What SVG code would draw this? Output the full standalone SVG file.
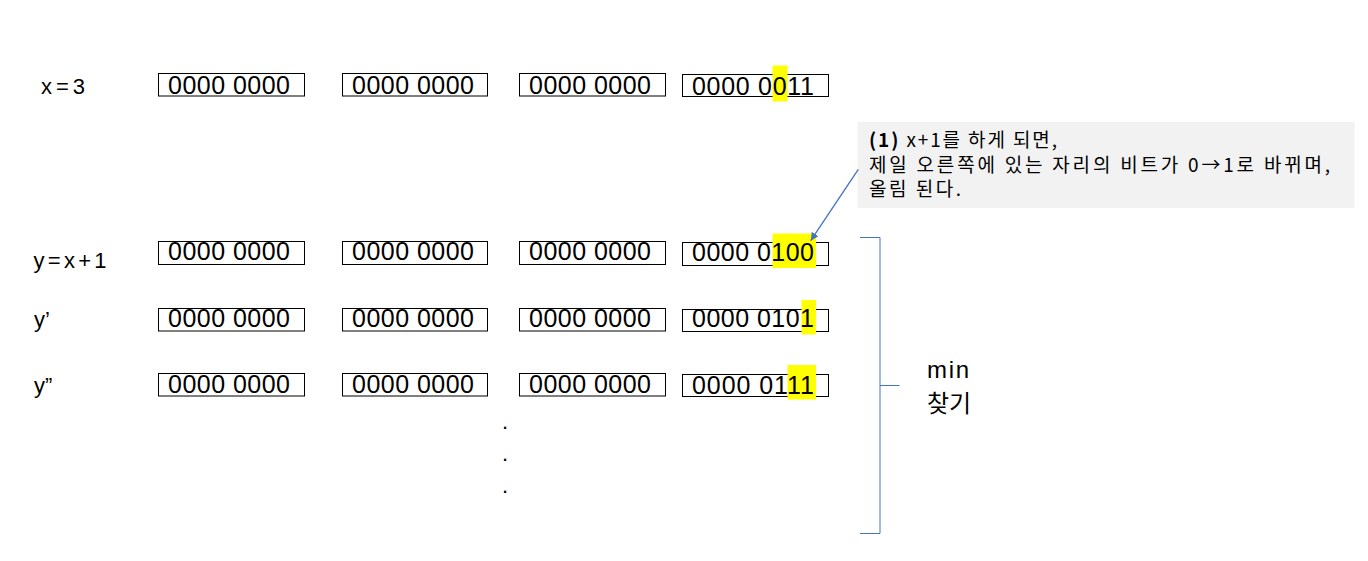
<svg xmlns="http://www.w3.org/2000/svg" width="1368" height="561" viewBox="0 0 1368 561">
<style>
.box{fill:none;stroke:#000;stroke-width:1}
.hl{fill:#FFFF00;stroke:none}
.bits{font-family:"Liberation Sans",Arial,sans-serif;font-size:25px;fill:#000}
.lbl{font-family:"Liberation Sans",Arial,sans-serif;font-size:22px;fill:#000}
.note{font-family:"Noto Sans CJK KR","Liberation Sans",sans-serif;font-size:19px;fill:#000}
.big{font-family:"Noto Sans CJK KR","Liberation Sans",sans-serif;font-size:24px;fill:#000}
.bigl{font-family:"Liberation Sans",Arial,sans-serif;font-size:24px;fill:#000}
.conn{fill:none;stroke:#4472C4;stroke-width:1.3}
.brk{fill:none;stroke:#4472C4;stroke-width:1}
</style>
<defs>
<marker id="ah" viewBox="0 0 10 10" refX="10" refY="5" markerWidth="8" markerHeight="8" markerUnits="userSpaceOnUse" orient="auto">
<path d="M0,0 L10,5 L0,10 z" fill="#4472C4"/>
</marker>
</defs>
<rect width="1368" height="561" fill="#fff"/>

<g id="row-x">
<text class="lbl" x="41" y="93.5" textLength="44" lengthAdjust="spacing">x=3</text>
<rect class="box" x="158.5" y="73.5" width="146" height="22.5"/>
<text class="bits" x="168" y="94" textLength="122" lengthAdjust="spacing">0000 0000</text>
<rect class="box" x="342.5" y="73.5" width="145" height="22.5"/>
<text class="bits" x="352" y="94" textLength="122" lengthAdjust="spacing">0000 0000</text>
<rect class="box" x="519.5" y="73.5" width="146" height="22.5"/>
<text class="bits" x="529" y="94" textLength="122" lengthAdjust="spacing">0000 0000</text>
<rect class="box" x="682.5" y="74.5" width="146" height="22"/>
<rect class="hl" x="772.5" y="65.5" width="15" height="36"/>
<text class="bits" x="692" y="94.5" textLength="122" lengthAdjust="spacing">0000 0011</text>
</g>

<g id="row-y">
<text class="lbl" x="33.5" y="267.5" textLength="73" lengthAdjust="spacing">y=x+1</text>
<rect class="box" x="158.5" y="241.5" width="146" height="23"/>
<text class="bits" x="168" y="260" textLength="122" lengthAdjust="spacing">0000 0000</text>
<rect class="box" x="342.5" y="241.5" width="145" height="23"/>
<text class="bits" x="352" y="260" textLength="122" lengthAdjust="spacing">0000 0000</text>
<rect class="box" x="519.5" y="241.5" width="146" height="23"/>
<text class="bits" x="529" y="260" textLength="122" lengthAdjust="spacing">0000 0000</text>
<rect class="box" x="682.5" y="242.5" width="146" height="23"/>
<rect class="hl" x="772.5" y="233.5" width="43.5" height="34.5"/>
<text class="bits" x="692" y="260.5" textLength="122" lengthAdjust="spacing">0000 0100</text>
</g>

<g id="row-y1">
<text class="lbl" x="34" y="327">y’</text>
<rect class="box" x="158.5" y="308.5" width="146" height="22.5"/>
<text class="bits" x="168" y="326.5" textLength="122" lengthAdjust="spacing">0000 0000</text>
<rect class="box" x="342.5" y="308.5" width="145" height="22.5"/>
<text class="bits" x="352" y="326.5" textLength="122" lengthAdjust="spacing">0000 0000</text>
<rect class="box" x="519.5" y="308.5" width="146" height="22.5"/>
<text class="bits" x="529" y="326.5" textLength="122" lengthAdjust="spacing">0000 0000</text>
<rect class="box" x="682.5" y="309.5" width="146" height="22"/>
<rect class="hl" x="801.5" y="300" width="14.5" height="34.5"/>
<text class="bits" x="692" y="327" textLength="122" lengthAdjust="spacing">0000 0101</text>
</g>

<g id="row-y2">
<text class="lbl" x="34" y="393">y”</text>
<rect class="box" x="158.5" y="373.5" width="146" height="22.5"/>
<text class="bits" x="168" y="393" textLength="122" lengthAdjust="spacing">0000 0000</text>
<rect class="box" x="342.5" y="373.5" width="145" height="22.5"/>
<text class="bits" x="352" y="393" textLength="122" lengthAdjust="spacing">0000 0000</text>
<rect class="box" x="519.5" y="373.5" width="146" height="22.5"/>
<text class="bits" x="529" y="393" textLength="122" lengthAdjust="spacing">0000 0000</text>
<rect class="box" x="682.5" y="374.5" width="146" height="22"/>
<rect class="hl" x="787.5" y="365" width="28.5" height="34.5"/>
<text class="bits" x="692" y="393.5" textLength="122" lengthAdjust="spacing">0000 0111</text>
</g>

<g id="dots">
<text class="lbl" x="502" y="428.5">.</text>
<text class="lbl" x="502" y="460.5">.</text>
<text class="lbl" x="502" y="492.5">.</text>
</g>

<g id="callout">
<rect x="857.5" y="122" width="497" height="86" fill="#F2F2F2"/>
<text class="note" x="869" y="147" textLength="188" lengthAdjust="spacing"><tspan font-weight="bold">(1)</tspan> x+1를 하게 되면,</text>
<text class="note" x="869" y="171.5" textLength="461" lengthAdjust="spacing">제일 오른쪽에 있는 자리의 비트가 0→1로 바뀌며,</text>
<text class="note" x="869" y="196" textLength="92" lengthAdjust="spacing">올림 된다.</text>
</g>

<g id="min-label">
<text class="bigl" x="927" y="378" textLength="42" lengthAdjust="spacing">min</text>
<text class="big" x="927" y="411.5">찾기</text>
</g>

<g id="connectors">
<line class="conn" x1="858.3" y1="169.3" x2="810.7" y2="240.7" marker-end="url(#ah)"/>
<path class="brk" d="M860,237.5 H880 V533.5 H860 M880,385.5 H899.5"/>
</g>
</svg>
